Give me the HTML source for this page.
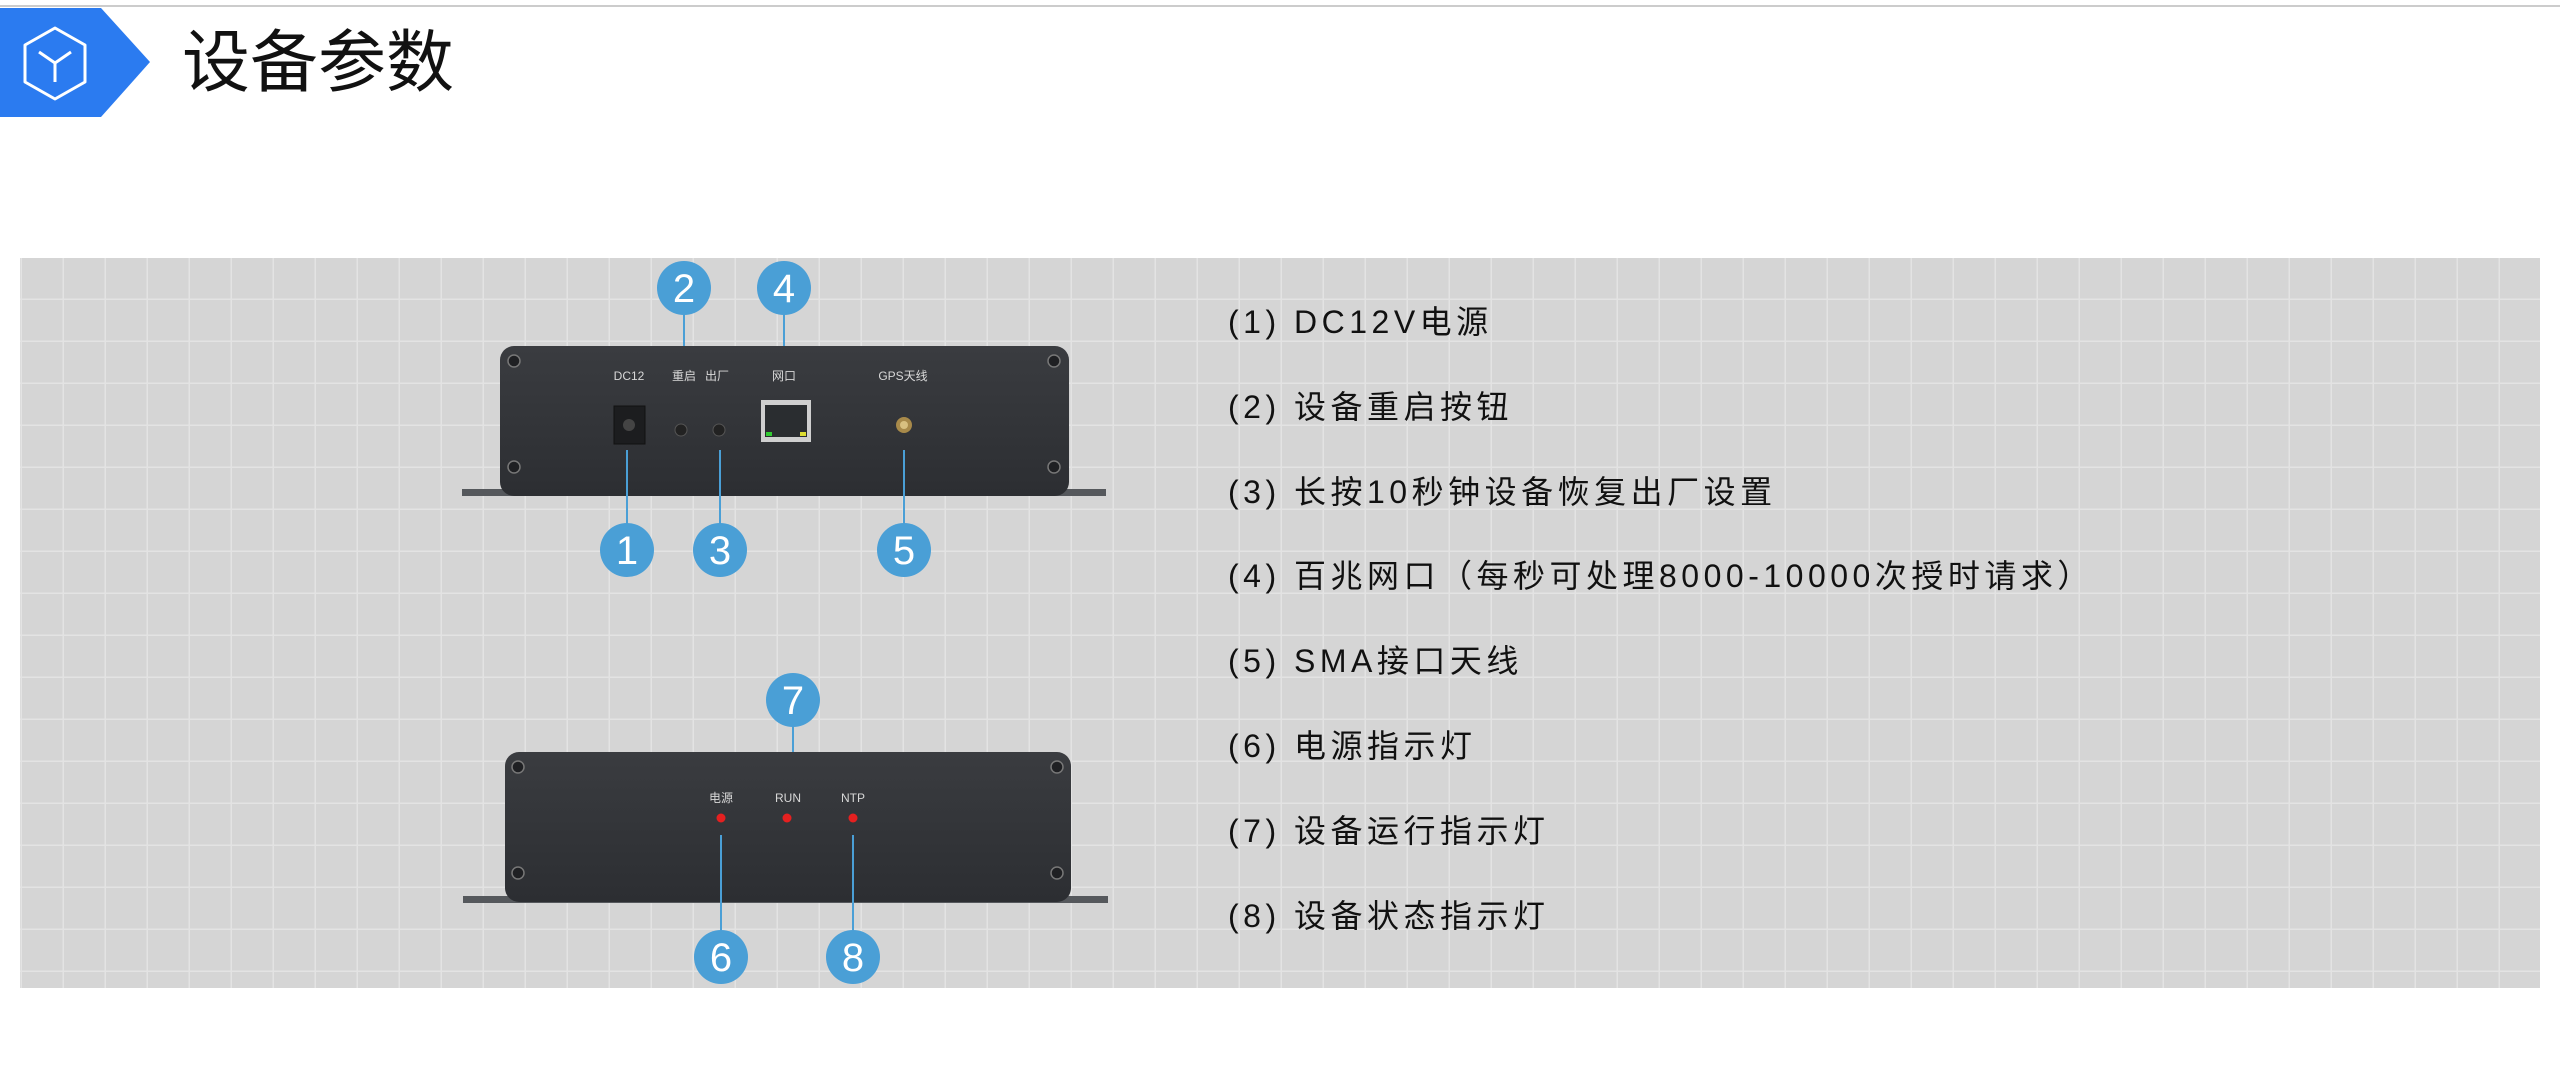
<!DOCTYPE html>
<html><head><meta charset="utf-8"><style>
html,body{margin:0;padding:0;background:#fff;}
body{width:2560px;height:1091px;overflow:hidden;position:relative;}
</style></head><body>
<svg width="2560" height="1091" viewBox="0 0 2560 1091" xmlns="http://www.w3.org/2000/svg" style="position:absolute;left:0;top:0">
<defs>
<pattern id="grid" x="22" y="258" width="42" height="42" patternUnits="userSpaceOnUse">
<rect width="42" height="42" fill="#d5d5d5"/>
<rect x="40.5" y="0" width="3" height="42" fill="#e3e3e3"/>
<rect x="0" y="40.5" width="42" height="3" fill="#e3e3e3"/>
</pattern>
<linearGradient id="box" x1="0" y1="0" x2="0" y2="1">
<stop offset="0" stop-color="#3a3c40"/><stop offset="1" stop-color="#2c2e32"/>
</linearGradient>
</defs>
<!-- header -->
<rect x="0" y="5" width="2560" height="2" fill="#cccccc"/>
<polygon points="0,8 101,8 150,62 101,117 0,117" fill="#2b7bf0"/>
<g fill="none" stroke="#fff" stroke-width="3" stroke-linejoin="round">
<polygon points="55,28 85,45 85,82 55,99 25,82 25,45"/>
<path d="M39,52 L55,63 L71,52 M55,63 L55,82"/>
</g>
<text x="182" y="86" font-family="'Liberation Sans','Noto Sans CJK SC',sans-serif" font-size="68" font-weight="normal" fill="#111">设备参数</text>

<!-- panel -->
<rect x="20" y="258" width="2520" height="730" fill="url(#grid)"/>

<!-- device 1 -->
<rect x="462" y="489" width="644" height="7" fill="#55585c"/>
<rect x="500" y="346" width="569" height="150" rx="14" fill="url(#box)"/>
<g fill="#1f2023" stroke="#777" stroke-width="1.5">
<circle cx="514" cy="361" r="6"/><circle cx="1054" cy="361" r="6"/>
<circle cx="514" cy="467" r="6"/><circle cx="1054" cy="467" r="6"/>
</g>
<g font-family="'Liberation Sans','Noto Sans CJK SC',sans-serif" font-size="12" fill="#d8d8d8" text-anchor="middle">
<text x="629" y="380">DC12</text><text x="684" y="380">重启</text><text x="717" y="380">出厂</text>
<text x="784" y="380">网口</text><text x="903" y="380">GPS天线</text>
</g>
<rect x="614" y="406" width="31" height="38" fill="#1c1d1f" stroke="#111"/>
<circle cx="629" cy="425" r="6" fill="#444"/>
<circle cx="681" cy="430" r="6" fill="#222" stroke="#555"/>
<circle cx="719" cy="430" r="6" fill="#222" stroke="#555"/>
<rect x="761" y="400" width="50" height="42" fill="#cfcfcf"/>
<rect x="765" y="405" width="42" height="32" fill="#2a2d30"/>
<rect x="766" y="432" width="6" height="4" fill="#3c3"/><rect x="800" y="432" width="6" height="4" fill="#dd3"/>
<circle cx="904" cy="425" r="8" fill="#a88a4a"/><circle cx="904" cy="425" r="4" fill="#d8c080"/>

<!-- device 2 -->
<rect x="463" y="896" width="645" height="7" fill="#55585c"/>
<rect x="505" y="752" width="566" height="150" rx="14" fill="url(#box)"/>
<g fill="#1f2023" stroke="#777" stroke-width="1.5">
<circle cx="518" cy="767" r="6"/><circle cx="1057" cy="767" r="6"/>
<circle cx="518" cy="873" r="6"/><circle cx="1057" cy="873" r="6"/>
</g>
<g font-family="'Liberation Sans','Noto Sans CJK SC',sans-serif" font-size="12" fill="#d8d8d8" text-anchor="middle">
<text x="721" y="802">电源</text><text x="788" y="802">RUN</text><text x="853" y="802">NTP</text>
</g>
<g fill="#e52020"><circle cx="721" cy="818" r="4.5"/><circle cx="787" cy="818" r="4.5"/><circle cx="853" cy="818" r="4.5"/></g>

<!-- connectors -->
<g stroke="#4a9fd6" stroke-width="2">
<line x1="684" y1="300" x2="684" y2="346"/><line x1="784" y1="300" x2="784" y2="346"/>
<line x1="627" y1="450" x2="627" y2="540"/><line x1="720" y1="450" x2="720" y2="540"/><line x1="904" y1="450" x2="904" y2="540"/>
<line x1="793" y1="712" x2="793" y2="752"/>
<line x1="721" y1="835" x2="721" y2="945"/><line x1="853" y1="835" x2="853" y2="945"/>
</g>
<g fill="#4a9fd6">
<circle cx="684" cy="288" r="27"/><circle cx="784" cy="288" r="27"/>
<circle cx="627" cy="550" r="27"/><circle cx="720" cy="550" r="27"/><circle cx="904" cy="550" r="27"/>
<circle cx="793" cy="700" r="27"/><circle cx="721" cy="957" r="27"/><circle cx="853" cy="957" r="27"/>
</g>
<g font-family="'Liberation Sans',sans-serif" font-size="40" fill="#fff" text-anchor="middle">
<text x="684" y="302">2</text><text x="784" y="302">4</text>
<text x="627" y="564">1</text><text x="720" y="564">3</text><text x="904" y="564">5</text>
<text x="793" y="714">7</text><text x="721" y="971">6</text><text x="853" y="971">8</text>
</g>

<!-- list -->
<g font-family="'Liberation Sans','Noto Sans CJK SC',sans-serif" font-size="32" fill="#111" letter-spacing="4.5">
<text x="1228" y="333">(1) DC12V电源</text>
<text x="1228" y="418">(2) 设备重启按钮</text>
<text x="1228" y="503">(3) 长按10秒钟设备恢复出厂设置</text>
<text x="1228" y="587">(4) 百兆网口（每秒可处理8000-10000次授时请求）</text>
<text x="1228" y="672">(5) SMA接口天线</text>
<text x="1228" y="757">(6) 电源指示灯</text>
<text x="1228" y="842">(7) 设备运行指示灯</text>
<text x="1228" y="927">(8) 设备状态指示灯</text>
</g>
</svg>
</body></html>
